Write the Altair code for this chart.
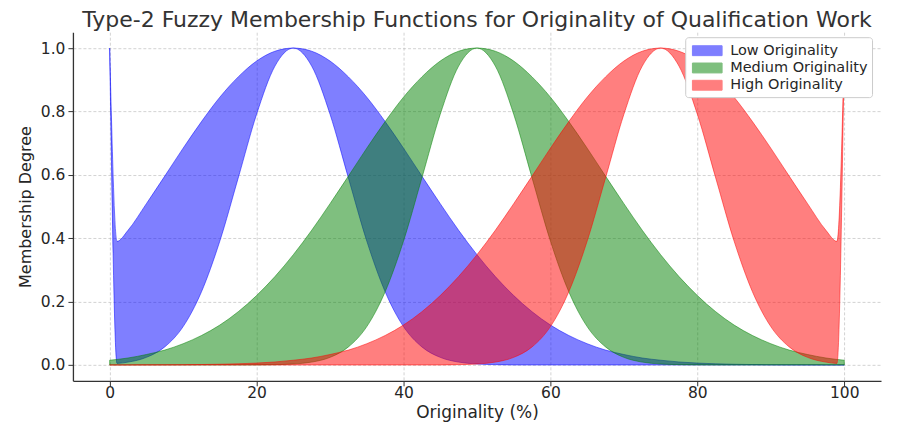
import altair as alt
import pandas as pd

series_names = ["Low Originality", "Medium Originality", "High Originality"]
series_colors = ["#0000ff", "#008000", "#ff0000"]

x_low = [0, 1, 2.5, 5, 7.5, 10, 12.5, 15, 17.5, 20, 22.5, 25, 27.5, 30, 32.5, 35, 37.5, 40,
         42.5, 45, 47.5, 50, 52.5, 55, 57.5, 60, 62.5, 65, 67.5, 70, 72.5, 75, 77.5, 80,
         82.5, 85, 87.5, 90, 92.5, 95, 97.5, 100]
low_upper = [1.0, 0.39, 0.425, 0.509, 0.596, 0.684, 0.768, 0.845, 0.909, 0.959, 0.990, 1.0,
             0.990, 0.959, 0.909, 0.845, 0.768, 0.684, 0.596, 0.509, 0.425, 0.348, 0.279,
             0.219, 0.168, 0.126, 0.093, 0.067, 0.047, 0.033, 0.022, 0.015, 0.0095, 0.006,
             0.0037, 0.0023, 0.0014, 0.0008, 0.0005, 0.0003, 0.0001, 0.0001]
low_lower = [1.0, 0.005, 0.009, 0.024, 0.057, 0.121, 0.231, 0.391, 0.590, 0.791, 0.943, 1.0,
             0.943, 0.791, 0.590, 0.391, 0.231, 0.121, 0.057, 0.024, 0.009, 0.003, 0.001,
             0, 0, 0, 0, 0, 0, 0, 0, 0, 0, 0, 0, 0, 0, 0, 0, 0, 0, 0]

x_mid = [0, 2.5, 5, 7.5, 10, 12.5, 15, 17.5, 20, 22.5, 25, 27.5, 30, 32.5, 35, 37.5, 40,
         42.5, 45, 47.5, 50, 52.5, 55, 57.5, 60, 62.5, 65, 67.5, 70, 72.5, 75, 77.5, 80,
         82.5, 85, 87.5, 90, 92.5, 95, 97.5, 100]
mid_upper = [0.015, 0.022, 0.033, 0.047, 0.067, 0.093, 0.126, 0.168, 0.219, 0.279, 0.348,
             0.425, 0.509, 0.596, 0.684, 0.768, 0.845, 0.909, 0.959, 0.990, 1.0, 0.990, 0.959,
             0.909, 0.845, 0.768, 0.684, 0.596, 0.509, 0.425, 0.348, 0.279, 0.219, 0.168,
             0.126, 0.093, 0.067, 0.047, 0.033, 0.022, 0.015]
mid_lower = [0, 0, 0, 0, 0, 0, 0, 0, 0.0002, 0.001, 0.003, 0.009, 0.024, 0.057, 0.121, 0.231,
             0.391, 0.590, 0.791, 0.943, 1.0, 0.943, 0.791, 0.590, 0.391, 0.231, 0.121, 0.057,
             0.024, 0.009, 0.003, 0.001, 0.0002, 0, 0, 0, 0, 0, 0, 0, 0]

x_high = [0, 2.5, 5, 7.5, 10, 12.5, 15, 17.5, 20, 22.5, 25, 27.5, 30, 32.5, 35, 37.5, 40,
          42.5, 45, 47.5, 50, 52.5, 55, 57.5, 60, 62.5, 65, 67.5, 70, 72.5, 75, 77.5, 80,
          82.5, 85, 87.5, 90, 92.5, 95, 97.5, 99, 100]
high_upper = [0.0001, 0.0001, 0.0003, 0.0005, 0.0008, 0.0014, 0.0023, 0.0037, 0.006, 0.0095,
              0.015, 0.022, 0.033, 0.047, 0.067, 0.093, 0.126, 0.168, 0.219, 0.279, 0.348,
              0.425, 0.509, 0.596, 0.684, 0.768, 0.845, 0.909, 0.959, 0.990, 1.0, 0.990, 0.959,
              0.909, 0.845, 0.768, 0.684, 0.596, 0.509, 0.425, 0.39, 1.0]
high_lower = [0, 0, 0, 0, 0, 0, 0, 0, 0, 0, 0, 0, 0, 0, 0, 0, 0, 0, 0, 0.001, 0.003, 0.009,
              0.024, 0.057, 0.121, 0.231, 0.391, 0.590, 0.791, 0.943, 1.0, 0.943, 0.791, 0.590,
              0.391, 0.231, 0.121, 0.057, 0.024, 0.009, 0.005, 1.0]

x_ticks = [0, 20, 40, 60, 80, 100]
y_ticks = [0.0, 0.2, 0.4, 0.6, 0.8, 1.0]

rows = []
for name, xs, up, lo in [
    (series_names[0], x_low, low_upper, low_lower),
    (series_names[1], x_mid, mid_upper, mid_lower),
    (series_names[2], x_high, high_upper, high_lower),
]:
    for a, b, c in zip(xs, up, lo):
        rows.append({"series": name, "x": a, "upper": b, "lower": c})
df = pd.DataFrame(rows)

FONT = "DejaVu Sans"
TXT = "#262626"

color_scale = alt.Scale(domain=series_names, range=series_colors)

legend = alt.Legend(
    title=None, orient="none", legendX=613, legendY=5, direction="vertical",
    fillColor="white", strokeColor="#cccccc", cornerRadius=3, padding=4,
    labelFont=FONT, labelFontSize=14.5, labelColor=TXT, labelOffset=22,
    symbolType="M-0.7,-0.55L2.6,-0.55L2.6,0.55L-0.7,0.55Z", symbolSize=324,
    symbolOpacity=0.5, symbolStrokeWidth=1, rowPadding=0.3,
)

x_enc = alt.X("x:Q", scale=alt.Scale(domain=[-5, 105], nice=False, zero=False),
              axis=alt.Axis(values=x_ticks, title="Originality (%)", format="d",
                            labelPadding=0, titlePadding=3))
y_enc = alt.Y("upper:Q", scale=alt.Scale(domain=[-0.05, 1.05], nice=False, zero=False),
              axis=alt.Axis(values=y_ticks, title="Membership Degree", format=".1f",
                            labelPadding=3, titlePadding=7, titleFontSize=16),
              stack=None)


def band(name):
    return alt.Chart(df).transform_filter(alt.datum.series == name).mark_area(
        fillOpacity=0.5, strokeOpacity=0.5, strokeWidth=1, interpolate="monotone"
    ).encode(
        x=x_enc,
        y=y_enc,
        y2="lower:Q",
        color=alt.Color("series:N", scale=color_scale, legend=legend),
        stroke=alt.Stroke("series:N", scale=color_scale, legend=legend),
    )


chart = alt.layer(*[band(n) for n in series_names]).properties(
    width=809, height=349,
    title=alt.TitleParams(
        "Type-2 Fuzzy Membership Functions for Originality of Qualification Work",
        font=FONT, fontSize=22, fontWeight="normal", color="#333333", anchor="middle",
        offset=0,
    ),
    autosize=alt.AutoSizeParams(type="none"),
    padding={"left": 65, "top": 24, "right": 10, "bottom": 41},
).configure_view(stroke=None).configure_axis(
    labelFont=FONT, labelFontSize=15.5, labelColor=TXT,
    titleFont=FONT, titleFontSize=17, titleFontWeight="normal", titleColor=TXT,
    domainColor="#333333", domainWidth=1.3, tickColor="#333333", tickSize=5, tickWidth=1,
    grid=True, gridColor="#b0b0b0", gridOpacity=0.7, gridDash=[3, 2], gridWidth=0.8,
)

chart.save("out.html", embed_options={"renderer": "svg", "actions": False})
